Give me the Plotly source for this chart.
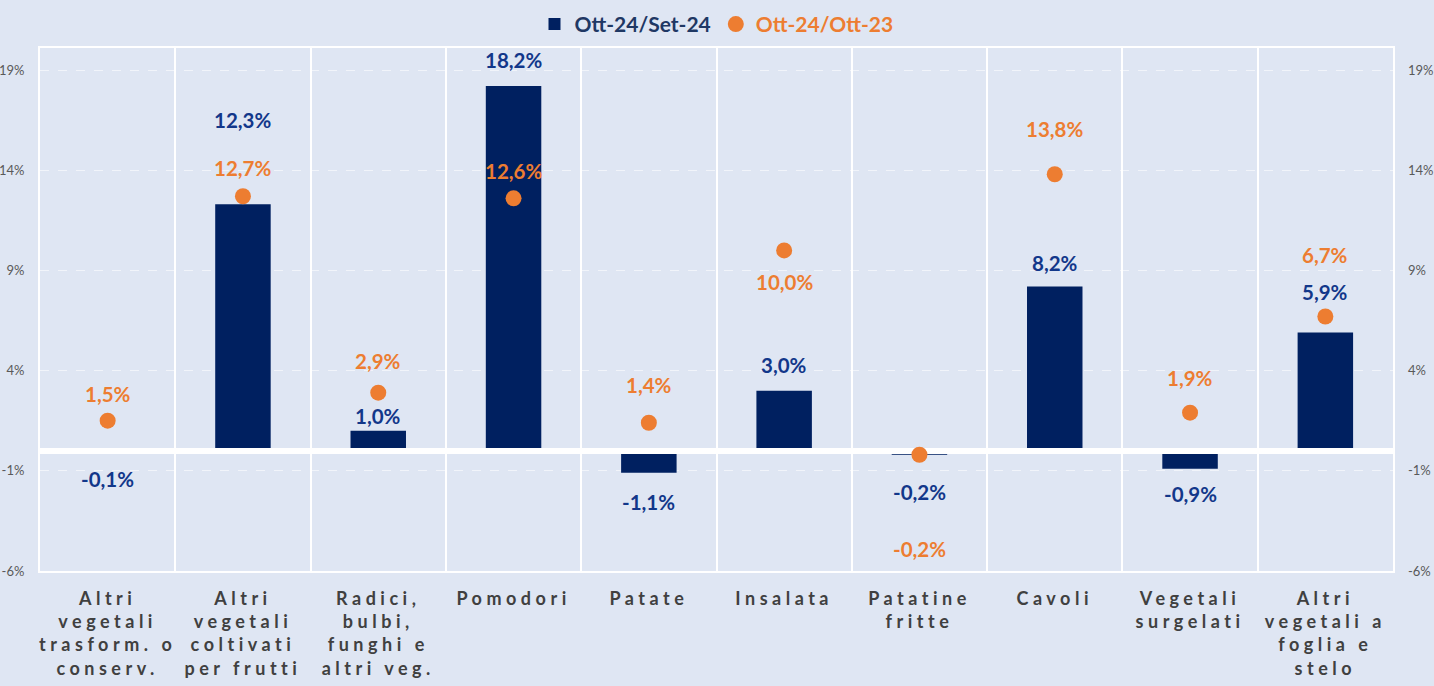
import plotly.graph_objects as go

categories = [
    "Altri<br>vegetali<br>trasform. o<br>conserv.",
    "Altri<br>vegetali<br>coltivati<br>per frutti",
    "Radici,<br>bulbi,<br>funghi e<br>altri veg.",
    "Pomodori",
    "Patate",
    "Insalata",
    "Patatine<br>fritte",
    "Cavoli",
    "Vegetali<br>surgelati",
    "Altri<br>vegetali a<br>foglia e<br>stelo",
]
mom_values = [-0.1, 12.3, 1.0, 18.2, -1.1, 3.0, -0.2, 8.2, -0.9, 5.9]   # Ott-24/Set-24
yoy_values = [1.5, 12.7, 2.9, 12.6, 1.4, 10.0, -0.2, 13.8, 1.9, 6.7]    # Ott-24/Ott-23
tick_values = [-6, -1, 4, 9, 14, 19]

# label pixel offsets (style only)
mom_label_shift = [-26, 84, 15, 26, -29, 26, -37, 23, -25, 41]
yoy_label_shift = [27, 28, 32, 27, 38, -32, -94, 45, 35, 62]

NAVY = "#002060"
NAVY_TXT = "#12378A"
ORANGE = "#ED7D31"
BG = "#DFE6F3"
FONT = "Lato, 'Open Sans', sans-serif"

def fmt(v):
    return f"{v:.1f}".replace(".", ",") + "%"

fig = go.Figure()
fig.add_trace(go.Bar(
    x=categories, y=mom_values, name="<span style='color:#1F3864'>Ott-24/Set-24</span>",
    marker=dict(color=NAVY, line=dict(width=0)), width=0.41, xaxis="x", yaxis="y",
))
fig.add_trace(go.Scatter(
    x=categories, y=yoy_values, mode="markers", name="<span style='color:#ED7D31'>Ott-24/Ott-23</span>",
    marker=dict(color=ORANGE, size=16, symbol="circle"), xaxis="x2", yaxis="y2",
))

annotations = []
for c, v, s in zip(categories, mom_values, mom_label_shift):
    annotations.append(dict(x=c, y=v, xref="x", yref="y", text=fmt(v), showarrow=False,
                            yshift=s, font=dict(family=FONT, size=20.5, color=NAVY_TXT, weight="bold")))
for c, v, s in zip(categories, yoy_values, yoy_label_shift):
    annotations.append(dict(x=c, y=v, xref="x", yref="y", text=fmt(v), showarrow=False,
                            yshift=s, font=dict(family=FONT, size=20.5, color=ORANGE, weight="bold")))

yrange = [-6, 20.1]
xrange = [-0.5, len(categories) - 0.5]
fig.update_layout(
    width=1434, height=686,
    paper_bgcolor=BG, plot_bgcolor="rgba(0,0,0,0)",
    margin=dict(l=40, r=41, t=48, b=115, autoexpand=False),
    font=dict(family=FONT, color="#595959"),
    showlegend=True,
    legend=dict(orientation="h", x=0.5, xanchor="center", y=1.045, yanchor="middle",
                bgcolor="rgba(0,0,0,0)", font=dict(family=FONT, size=21, weight="bold"),
                itemwidth=30, traceorder="normal"),
    annotations=annotations,
    bargap=0.59,
    xaxis=dict(
        domain=[0, 1], range=xrange,
        tickson="boundaries", showgrid=True, gridcolor="white", gridwidth=2,
        showline=True, linecolor="white", linewidth=2, mirror=True,
        ticks="", tickfont=dict(family=FONT, size=18, color="#404040", weight="bold"),
        automargin=False,
    ),
    yaxis=dict(
        range=yrange, tickmode="array", tickvals=tick_values,
        ticktext=[f"{t}%" for t in tick_values],
        showgrid=True, gridcolor="rgba(255,255,255,0.55)", gridwidth=1, griddash="dash",
        zeroline=True, zerolinecolor="white", zerolinewidth=6,
        showline=True, linecolor="white", linewidth=2, mirror=True,
        tickfont=dict(family=FONT, size=13, color="#595959"), ticks="",
        automargin=False,
    ),
    xaxis2=dict(
        domain=[0, 1], range=xrange, anchor="y2", visible=False,
        categoryorder="array", categoryarray=categories,
    ),
    yaxis2=dict(
        range=yrange, anchor="x2", side="right", tickmode="array", tickvals=tick_values,
        ticktext=[f"{t}%" for t in tick_values], showgrid=False, zeroline=False,
        showline=False, tickfont=dict(family=FONT, size=13, color="#595959"), ticks="",
        automargin=False,
    ),
)
for ax, val in (("xaxis", 10), ("yaxis", 11), ("yaxis2", 14)):
    try:
        fig.layout[ax].ticklabelstandoff = val
    except Exception:
        pass
try:
    fig.layout.yaxis.zerolinelayer = "above traces"
except Exception:
    pass

post = """
document.body.style.margin='0';
document.body.style.overflow='hidden';
function ls(){document.querySelectorAll('.xtick text').forEach(function(t){t.style.letterSpacing='4.5px';});}
ls();
var gd=document.getElementsByClassName('plotly-graph-div')[0];
if(gd&&gd.on){gd.on('plotly_afterplot', ls);}
"""
fig.write_html("out.html", post_script=post, config={"displayModeBar": False})
